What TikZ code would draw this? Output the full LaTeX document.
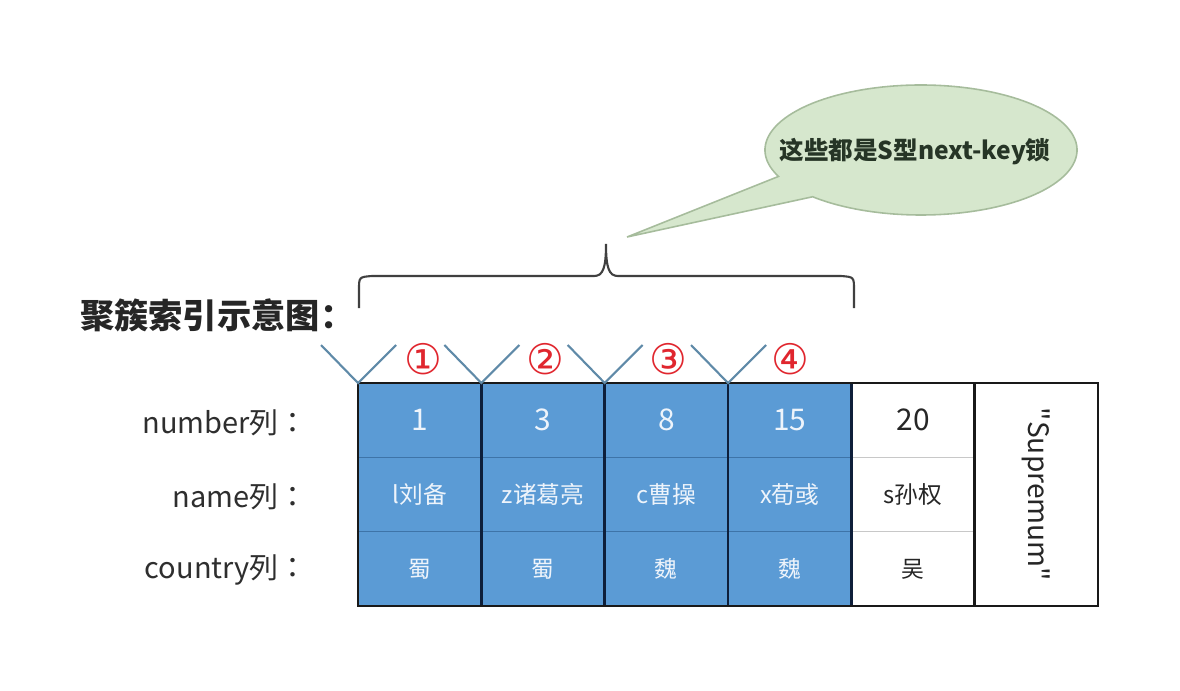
\documentclass[tikz,border=0pt]{standalone}
\usepackage{fontspec}
\setmainfont{Noto Sans CJK SC}
\newfontfamily\tcfont{Noto Sans CJK TC}
\newfontfamily\symfont{DejaVu Sans}
\newcommand\myfs[1]{\fontsize{#1}{#1}\selectfont}
\definecolor{cellblue}{HTML}{5B9BD5}
\definecolor{rowblue}{HTML}{3E74A8}
\definecolor{rowgray}{HTML}{C8C8C8}
\definecolor{celltext}{HTML}{EEF4FB}
\definecolor{sepnavy}{HTML}{0E1F3A}
\definecolor{vblue}{HTML}{5F8AA8}
\definecolor{circred}{HTML}{E0262E}
\definecolor{bubblefill}{HTML}{D6E7CD}
\definecolor{bubbleline}{HTML}{A6BC9C}
\definecolor{bubbletext}{HTML}{263526}
\definecolor{labeltext}{HTML}{2E2E2E}
\begin{document}
\begin{tikzpicture}[x=0.02cm,y=-0.02cm,
  cell/.style={rectangle, minimum width=2.4667cm, minimum height=1.4867cm, inner sep=0pt, outer sep=0pt},
  bcell/.style={cell, fill=cellblue, draw=rowblue, line width=0.8pt, text=celltext},
  wcell/.style={cell, fill=white, draw=rowgray, line width=0.6pt, text=black!85},
  numf/.style={font=\myfs{17pt}},
  namef/.style={font=\myfs{13.5pt}},
  ctryf/.style={font=\myfs{13pt}},
  rowlabel/.style={anchor=east, text=labeltext, font=\tcfont\myfs{16.5pt}},
  sepline/.style={draw=sepnavy, line width=1.5pt},
  border/.style={draw=black!90, line width=1.5pt},
  vmark/.style={draw=vblue, line width=1.2pt},
  circnum/.style={text=circred, font=\symfont\myfs{24pt}},
  bracestyle/.style={draw=black!75, line width=1.2pt},
  bubble/.style={fill=bubblefill, draw=bubbleline, line width=0.9pt}
]
\useasboundingbox (0,0) rectangle (1180,690);

% callout bubble
\path[bubble] (921,150) ++(156:156 and 65)
  arc[start angle=156, end angle=494, x radius=156, y radius=65]
  -- (627,237) -- cycle;
\node[text=bubbletext, font=\bfseries\myfs{14pt}] (note) at (915,152) {这些都是S型next-key锁};

% brace
\draw[bracestyle] (359,308) -- (359,290) .. controls (359,277) .. (372,276)
  -- (594,276) .. controls (603,276) and (606,268) .. (606,244)
  .. controls (606,268) and (609,276) .. (618,276)
  -- (841,276) .. controls (854,277) .. (854,290) -- (854,308);

% title
\node[anchor=west, font=\bfseries\myfs{19.5pt}, text=black!85] (title) at (74,315) {聚簇索引示意图：};

% row labels
\node[rowlabel] (lnum) at (314,423) {number列：};
\node[rowlabel] (lname) at (314,497) {name列：};
\node[rowlabel] (lcty) at (314,570) {country列：};

% table cells
\node[bcell, numf] (n1) at (419.67,420.17) {1};
\node[bcell, numf] (n2) at (543,420.17) {3};
\node[bcell, numf] (n3) at (666.33,420.17) {8};
\node[bcell, numf] (n4) at (789.67,420.17) {15};
\node[wcell, numf] (n5) at (913,420.17) {20};

\node[bcell, namef] (m1) at (419.67,494.5) {l刘备};
\node[bcell, namef] (m2) at (543,494.5) {z诸葛亮};
\node[bcell, namef] (m3) at (666.33,494.5) {c曹操};
\node[bcell, namef] (m4) at (789.67,494.5) {x荀彧};
\node[wcell, namef] (m5) at (913,494.5) {s孙权};

\node[bcell, ctryf] (c1) at (419.67,568.83) {蜀};
\node[bcell, ctryf] (c2) at (543,568.83) {蜀};
\node[bcell, ctryf] (c3) at (666.33,568.83) {魏};
\node[bcell, ctryf] (c4) at (789.67,568.83) {魏};
\node[wcell, ctryf] (c5) at (913,568.83) {吴};

\node[cell, minimum height=4.46cm, fill=white] (sup) at (1036.33,494.5) {};
\node[rotate=-90, font=\myfs{16pt}, text=black!85] (suptext) at (sup.center) {\textquotedbl Supremum\textquotedbl};

% column separators and border
\draw[sepline] (n1.north east) -- (c1.south east);
\draw[sepline] (n2.north east) -- (c2.south east);
\draw[sepline] (n3.north east) -- (c3.south east);
\draw[sepline] (n4.north east) -- (c4.south east);
\draw[border] (n5.north east) -- (c5.south east);
\draw[border] (n1.north west) rectangle (sup.south east);

% V marks
\draw[vmark] (n1.north west) ++(-37,-38) -- (n1.north west) -- ++(38,-38);
\draw[vmark] (n2.north west) ++(-37,-38) -- (n2.north west) -- ++(38,-38);
\draw[vmark] (n3.north west) ++(-37,-38) -- (n3.north west) -- ++(38,-38);
\draw[vmark] (n4.north west) ++(-37,-38) -- (n4.north west) -- ++(38,-38);

% circled numbers
\node[circnum] (k1) at (423,359) {①};
\node[circnum] (k2) at (545,359) {②};
\node[circnum] (k3) at (668,359) {③};
\node[circnum] (k4) at (790,359) {④};
\end{tikzpicture}
\end{document}
